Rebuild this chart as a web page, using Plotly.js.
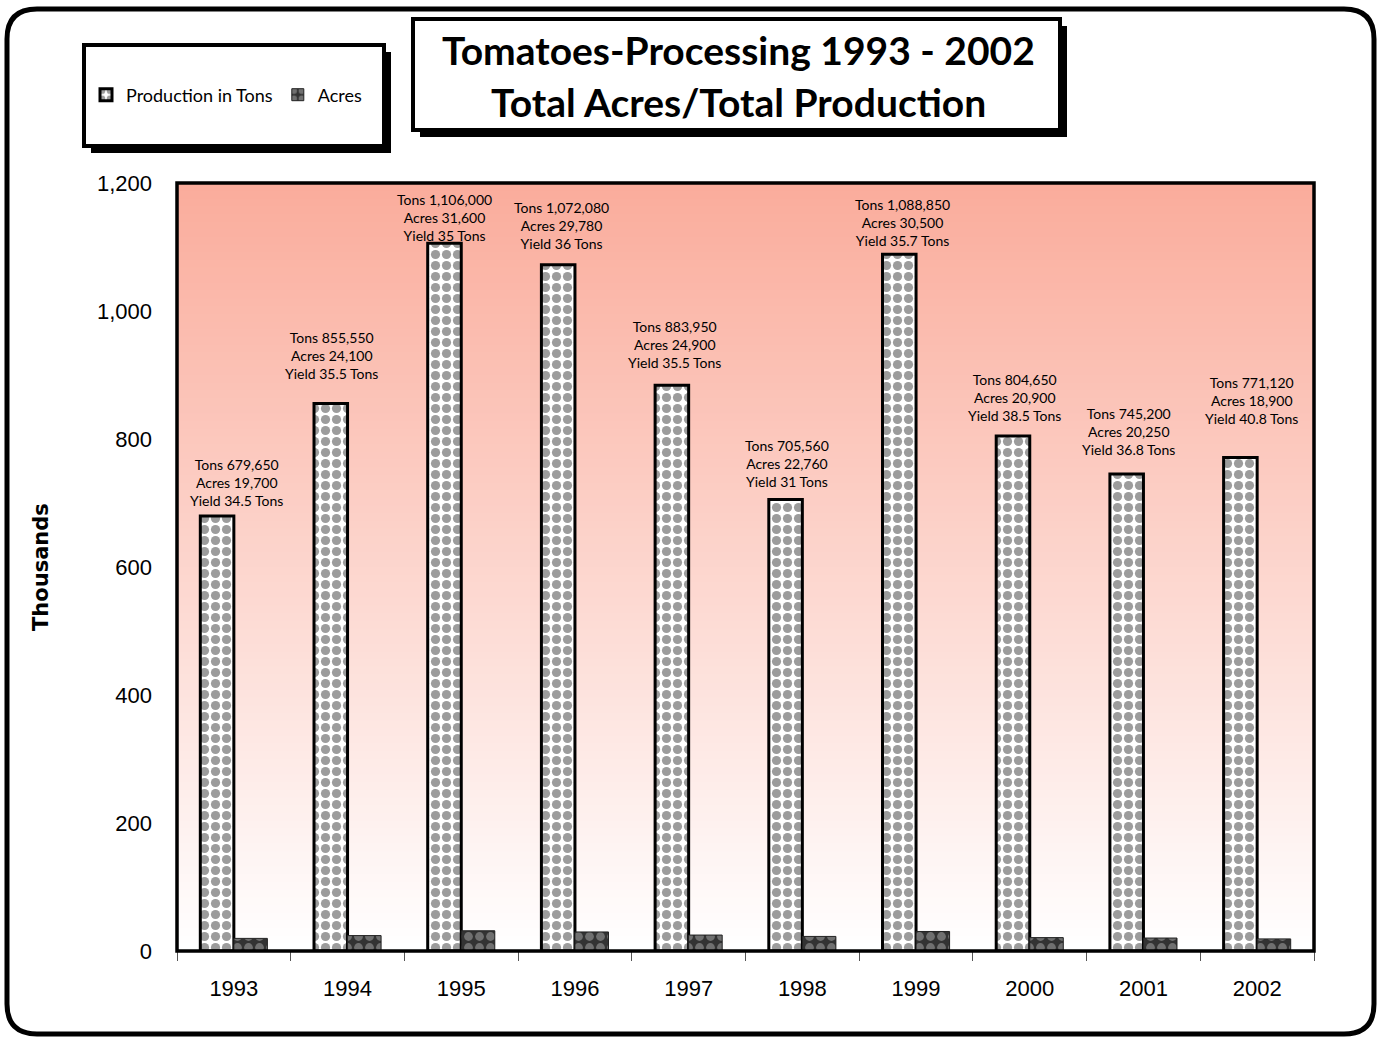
<!DOCTYPE html>
<html>
<head>
<meta charset="utf-8">
<script src="https://cdn.plot.ly/plotly-3.0.1.min.js"></script>
<style>
html,body{margin:0;padding:0;background:#fff;}
#chart{width:1380px;height:1038px;}
</style>
</head>
<body>
<div id="chart"></div>
<script>
// ---- data ----
const years = ['1993','1994','1995','1996','1997','1998','1999','2000','2001','2002'];
const tons = [679650, 855550, 1106000, 1072080, 883950, 705560, 1088850, 804650, 745200, 771120];
const acres = [19700, 24100, 31600, 29780, 24900, 22760, 30500, 20900, 20250, 18900];
const yieldTons = [34.5, 35.5, 35, 36, 35.5, 31, 35.7, 38.5, 36.8, 40.8];
const seriesNames = ['Production in Tons', 'Acres'];
const yTickVals = [0, 200, 400, 600, 800, 1000, 1200];

// ---- layout helpers (pixel -> paper) ----
const W = 1380, H = 1038;
const L = 177, R = 1314, T = 183, B = 951;
const px = x => (x - L) / (R - L);
const py = y => (B - y) / (B - T);

const comic = '"Comic Sans MS", Lato, "Noto Sans", sans-serif';
const arial = '"Liberation Sans", Arial, sans-serif';

const fmt = n => n.toLocaleString('en-US');
const NB = '\u00A0';

// label placement tweaks (pixels)
const labelShift = [3, -16, -17, -13, -14, -15, -14, -15, -15, -6];
const labelLift = [5, 19, -3, 11, 12, 7, 3, 10, 14, 28];

const traces = [
  {
    type: 'bar', name: seriesNames[0], x: years, y: tons.map(v => v / 1000),
    marker: {
      color: '#ffffff',
      line: {color: '#000', width: 3},
      pattern: {shape: '.', fgcolor: '#9c9c9c', bgcolor: '#ffffff', size: 11, solidity: 0.55, fillmode: 'replace'}
    },
    hoverinfo: 'x+y'
  },
  {
    type: 'bar', name: seriesNames[1], x: years, y: acres.map(v => v / 1000),
    marker: {
      color: '#3a3a3a',
      line: {color: '#222', width: 1},
      pattern: {shape: '.', fgcolor: '#707070', bgcolor: '#333333', size: 11, solidity: 0.5, fillmode: 'replace'}
    },
    hoverinfo: 'x+y'
  }
];

const shapes = [];
// gradient background strips (overlapping to avoid seams)
const N = 100;
for (let i = 0; i < N; i++) {
  const f = (i + 0.5) / N; // 0 bottom -> 1 top
  const r = Math.round(255 - f * 5);
  const g = Math.round(255 - f * 83);
  const b = Math.round(255 - f * 100);
  shapes.push({type: 'rect', xref: 'paper', yref: 'paper', x0: 0, x1: 1, y0: i / N, y1: Math.min(1, (i + 2) / N),
    line: {width: 0}, fillcolor: `rgb(${r},${g},${b})`, layer: 'below'});
}
// plot frame
shapes.push({type: 'rect', xref: 'paper', yref: 'paper', x0: 0, x1: 1, y0: 0, y1: 1,
  line: {color: '#000', width: 3.5}, fillcolor: 'rgba(0,0,0,0)', layer: 'above'});

// outer rounded frame
(function () {
  const x0 = 7, y0 = 9, x1 = 1374, y1 = 1034, rr = 30;
  const P = (x, y) => px(x).toFixed(5) + ',' + py(y).toFixed(5);
  const path = 'M' + P(x0 + rr, y0) + ' L' + P(x1 - rr, y0) + ' Q' + P(x1, y0) + ' ' + P(x1, y0 + rr) +
    ' L' + P(x1, y1 - rr) + ' Q' + P(x1, y1) + ' ' + P(x1 - rr, y1) +
    ' L' + P(x0 + rr, y1) + ' Q' + P(x0, y1) + ' ' + P(x0, y1 - rr) +
    ' L' + P(x0, y0 + rr) + ' Q' + P(x0, y0) + ' ' + P(x0 + rr, y0) + ' Z';
  shapes.push({type: 'path', xref: 'paper', yref: 'paper', path: path, line: {color: '#000', width: 5}, layer: 'above'});
})();

// boxes with drop shadow
function box(x0, y0, x1, y1, off) {
  shapes.push({type: 'rect', xref: 'paper', yref: 'paper', x0: px(x0 + off), x1: px(x1 + off), y0: py(y0 + off), y1: py(y1 + off),
    line: {width: 0}, fillcolor: '#000', layer: 'above'});
  shapes.push({type: 'rect', xref: 'paper', yref: 'paper', x0: px(x0), x1: px(x1), y0: py(y0), y1: py(y1),
    line: {color: '#000', width: 4}, fillcolor: '#fff', layer: 'above'});
}
box(413, 19, 1060, 130, 7);
box(84, 45, 384, 146, 7);

const annotations = [];
years.forEach((yr, i) => {
  annotations.push({
    x: i, y: tons[i] / 1000, xref: 'x', yref: 'y', xshift: labelShift[i], yshift: labelLift[i],
    yanchor: 'bottom', xanchor: 'center', showarrow: false, align: 'center',
    text: 'Tons' + NB + fmt(tons[i]) + '<br>Acres' + NB + fmt(acres[i]) + '<br>Yield' + NB + yieldTons[i] + ' Tons',
    font: {family: comic, size: 14, color: '#000'}
  });
});
annotations.push({xref: 'paper', yref: 'paper', x: px(738), y: py(50), text: '<b>Tomatoes-Processing 1993 - 2002</b>',
  showarrow: false, xanchor: 'center', yanchor: 'middle', font: {family: comic, size: 39, color: '#000'}});
annotations.push({xref: 'paper', yref: 'paper', x: px(738), y: py(102), text: '<b>Total Acres/Total Production</b>',
  showarrow: false, xanchor: 'center', yanchor: 'middle', font: {family: comic, size: 39, color: '#000'}});
annotations.push({xref: 'paper', yref: 'paper', x: px(41), y: py(567), text: '<b>Thousands</b>', textangle: -90,
  showarrow: false, xanchor: 'center', yanchor: 'middle', font: {family: '"DejaVu Sans", Verdana, sans-serif', size: 21, color: '#000'}});

const layout = {
  width: W, height: H,
  margin: {l: L, r: W - R, t: T, b: H - B, pad: 0},
  paper_bgcolor: '#ffffff', plot_bgcolor: '#ffffff',
  barmode: 'group', bargap: 0.41, bargroupgap: 0,
  showlegend: true,
  legend: {orientation: 'h', x: px(86), y: py(95), xanchor: 'left', yanchor: 'middle',
    bgcolor: 'rgba(0,0,0,0)', borderwidth: 0, font: {family: comic, size: 18, color: '#000'},
    traceorder: 'normal', itemwidth: 30, tracegroupgap: 0},
  xaxis: {
    type: 'category', range: [-0.5, 9.5], autorange: false,
    tickson: 'boundaries', ticks: 'outside', ticklen: 9, tickcolor: '#555', tickwidth: 1, tickangle: 0,
    showgrid: false, zeroline: false, showline: false,
    tickfont: {family: arial, size: 22, color: '#000'}, ticklabelstandoff: 22
  },
  yaxis: {
    range: [0, 1200], autorange: false, tickvals: yTickVals, tickformat: ',', showgrid: false, zeroline: false, showline: false,
    ticks: '', tickfont: {family: arial, size: 22, color: '#000'}, ticklabelstandoff: 24
  },
  shapes: shapes,
  annotations: annotations
};

Plotly.newPlot('chart', traces, layout, {displayModeBar: false, staticPlot: true});
</script>
</body>
</html>
